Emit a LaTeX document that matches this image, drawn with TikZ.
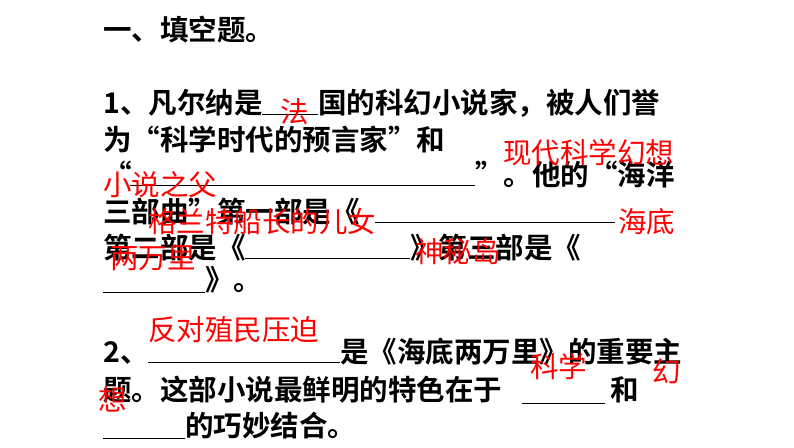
\documentclass[tikz,border=0pt]{standalone}
\usepackage{fontspec}
\newfontfamily\cjk{Noto Sans CJK SC}
\newfontfamily\cjkb{Noto Sans CJK SC Bold}
\begin{document}
\begin{tikzpicture}[x=1pt,y=-1pt,
  t/.style={anchor=base west,inner sep=0pt,font=\cjkb\fontsize{28.5}{28.5}\selectfont},
  a/.style={anchor=base west,inner sep=0pt,text=red,font=\cjk\fontsize{28.5}{28.5}\selectfont},
  u/.style={line width=1pt}]
\useasboundingbox[fill=white] (0,0) rectangle (794,447);
\node[t] (h) at (103,40) {一、填空题。};
\node[t] (l1a) at (103,113) {1、凡尔纳是};
\coordinate (u1a) at (262,114); \coordinate (u1b) at (318,114);
\draw[u] (u1a) -- (u1b);
\node[t] (l1b) at (318,113) {国的科幻小说家，被人们誉};
\node[t] (l2) at (103,150) {为“科学时代的预言家”和};
\node[t] (l3a) at (103,185) {“};
\coordinate (u3a) at (130,185); \coordinate (u3b) at (475,185);
\draw[u] (u3a) -- (u3b);
\node[t] (l3b) at (475,185) {”。他的“海洋};
\node[t] (l4) at (103,222) {三部曲”第一部是《};
\coordinate (u4a) at (375,222); \coordinate (u4b) at (615,222);
\draw[u] (u4a) -- (u4b);
\node[t] (l5a) at (103,258) {第二部是《};
\coordinate (u5a) at (245,258); \coordinate (u5b) at (410,258);
\draw[u] (u5a) -- (u5b);
\node[t] (l5b) at (410,258) {》第三部是《};
\coordinate (u6a) at (103,292); \coordinate (u6b) at (205,292);
\draw[u] (u6a) -- (u6b);
\node[t] (l6) at (205,290) {》。};
\node[t] (l7a) at (103,362) {2、};
\coordinate (u7a) at (148,362); \coordinate (u7b) at (340,362);
\draw[u] (u7a) -- (u7b);
\node[t] (l7b) at (340,362) {是《海底两万里》的重要主};
\node[t] (l8a) at (103,400) {题。这部小说最鲜明的特色在于};
\coordinate (u8a) at (522,403); \coordinate (u8b) at (605,403);
\draw[u] (u8a) -- (u8b);
\node[t] (l8b) at (610,400) {和};
\coordinate (u9a) at (103,438); \coordinate (u9b) at (185,438);
\draw[u] (u9a) -- (u9b);
\node[t] (l9) at (185,436) {的巧妙结合。};
% answers
\node[a] (r1) at (280,122) {法};
\node[a] (r2) at (503,163) {现代科学幻想};
\node[a] (r3) at (103,195) {小说之父};
\node[a] (r4) at (148,232) {格兰特船长的儿女};
\node[a] (r5) at (618,232) {海底};
\node[a] (r6) at (110,268) {两万里};
\node[a] (r7) at (415,262) {神秘岛};
\node[a] (r8) at (148,340) {反对殖民压迫};
\node[a] (r9) at (530,377) {科学};
\node[a] (r10) at (652,382) {幻};
\node[a] (r11) at (98,410) {想};
\end{tikzpicture}
\end{document}
